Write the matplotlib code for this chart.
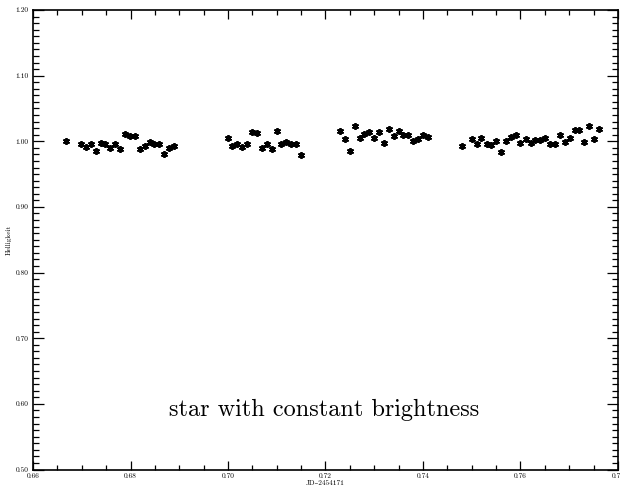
import numpy as np
import matplotlib
matplotlib.use("Agg")
import matplotlib.pyplot as plt
from matplotlib.ticker import MultipleLocator, FormatStrFormatter

# Julian date offsets (JD - 2454171) and relative brightness, four observing blocks
jd = np.array([
    0.6668, 0.6699, 0.6708, 0.6718, 0.6729, 0.6739, 0.6748, 0.6758, 0.6768, 0.6779,
    0.6789, 0.6799, 0.6809, 0.6819, 0.6829, 0.6839, 0.6849, 0.6859, 0.6869, 0.6879,
    0.6889,
    0.6999, 0.7009, 0.7019, 0.7029, 0.7039, 0.7049, 0.7059, 0.7070, 0.7079, 0.7090,
    0.7100, 0.7109, 0.7120, 0.7130, 0.7139, 0.7150,
    0.7230, 0.7239, 0.7250, 0.7260, 0.7270, 0.7280, 0.7290, 0.7300, 0.7310, 0.7320,
    0.7330, 0.7340, 0.7350, 0.7360, 0.7370, 0.7380, 0.7390, 0.7400, 0.7410,
    0.7480, 0.7501, 0.7510, 0.7520, 0.7531, 0.7540, 0.7550, 0.7561, 0.7570, 0.7581,
    0.7590, 0.7600, 0.7611, 0.7621, 0.7630, 0.7641, 0.7651, 0.7661, 0.7671, 0.7681,
    0.7691, 0.7701, 0.7711, 0.7721, 0.7731, 0.7741, 0.7751, 0.7761,
])
helligkeit = np.array([
    1.0000, 0.9965, 0.9913, 0.9965, 0.9852, 0.9969, 0.9954, 0.9904, 0.9954, 0.9882,
    1.0107, 1.0076, 1.0076, 0.9882, 0.9924, 0.9985, 0.9959, 0.9954, 0.9806, 0.9893,
    0.9928,
    1.0050, 0.9928, 0.9965, 0.9919, 0.9954, 1.0142, 1.0122, 0.9904, 0.9965, 0.9882,
    1.0153, 0.9965, 0.9985, 0.9959, 0.9954, 0.9790,
    1.0164, 1.0035, 0.9858, 1.0229, 1.0057, 1.0118, 1.0148, 1.0057, 1.0148, 0.9969,
    1.0183, 1.0081, 1.0157, 1.0092, 1.0096, 1.0000, 1.0031, 1.0092, 1.0066,
    0.9934, 1.0031, 0.9965, 1.0050, 0.9954, 0.9950, 1.0011, 0.9832, 1.0011, 1.0072,
    1.0092, 0.9980, 1.0035, 0.9969, 1.0020, 1.0015, 1.0046, 0.9965, 0.9965, 1.0092,
    0.9992, 1.0046, 1.0168, 1.0168, 0.9985, 1.0229, 1.0031, 1.0191,
])

serif = ['cmr10', 'DejaVu Serif']

fig = plt.figure(figsize=(6.2, 4.88), dpi=100)
ax = fig.add_axes([33 / 620, 1 - 469.5 / 488, 585 / 620, 459.5 / 488])

ax.plot(jd, helligkeit, linestyle='none', marker=(6, 2, 0), markersize=5,
        markeredgewidth=1.3, color='black')

ax.set_xlim(0.66, 0.78)
ax.set_ylim(0.50, 1.20)
ax.xaxis.set_major_locator(MultipleLocator(0.02))
ax.xaxis.set_minor_locator(MultipleLocator(0.005))
ax.yaxis.set_major_locator(MultipleLocator(0.10))
ax.yaxis.set_minor_locator(MultipleLocator(0.01))
ax.xaxis.set_major_formatter(FormatStrFormatter('%.2f'))
ax.yaxis.set_major_formatter(FormatStrFormatter('%.2f'))

ax.tick_params(axis='both', which='both', direction='in', top=True, right=True,
               width=0.9, colors='black', labelsize=5.3)
ax.tick_params(axis='x', which='major', length=6.5, pad=3)
ax.tick_params(axis='x', which='minor', length=3.3)
ax.tick_params(axis='y', which='major', length=8, pad=3)
ax.tick_params(axis='y', which='minor', length=4)
for lab in ax.get_xticklabels() + ax.get_yticklabels():
    lab.set_family(serif)
for s in ax.spines.values():
    s.set_linewidth(1.2)

ax.set_xlabel('JD–2454171', fontsize=5.3, family=serif, labelpad=0.5)
ax.set_ylabel('Helligkeit', fontsize=5.3, family=serif, labelpad=3)

ax.text(0.7197, 0.59, 'star with constant brightness', fontsize=17.5, family=serif,
        ha='center', va='center')

fig.savefig('out.png', dpi=100)
